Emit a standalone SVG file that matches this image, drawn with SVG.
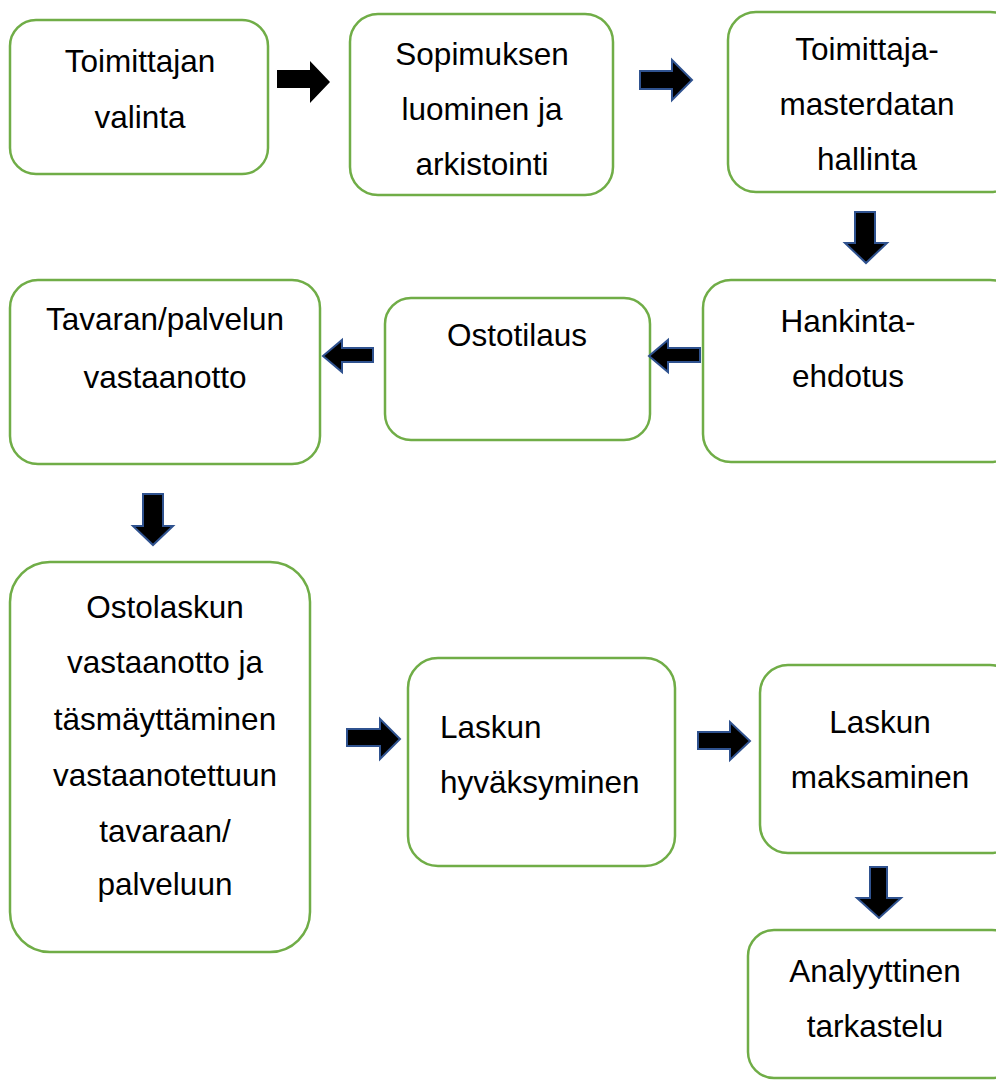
<svg xmlns="http://www.w3.org/2000/svg" width="996" height="1080" viewBox="0 0 996 1080">
<style>
.box{fill:#fff;stroke:#70AD47;stroke-width:2.5}
.t{font-family:"Liberation Sans",Arial,sans-serif;font-size:31.5px;fill:#000;text-anchor:middle}
.l{text-anchor:start}
.arr{fill:#000;stroke:#2F528F;stroke-width:2;stroke-linejoin:miter}
.arr0{fill:#000}
</style>
<rect width="996" height="1080" fill="#fff"/>
<g id="n1"><rect class="box" x="10" y="20" width="258" height="154" rx="26"/>
<text class="t" x="140" y="72">Toimittajan</text><text class="t" x="140" y="128">valinta</text></g>
<g id="n2"><rect class="box" x="350" y="14" width="263" height="181" rx="28"/>
<text class="t" x="482" y="65">Sopimuksen</text><text class="t" x="482" y="120">luominen ja</text><text class="t" x="482" y="175">arkistointi</text></g>
<g id="n3"><rect class="box" x="728" y="12" width="290" height="180" rx="28"/>
<text class="t" x="867" y="60">Toimittaja-</text><text class="t" x="867" y="115">masterdatan</text><text class="t" x="867" y="170">hallinta</text></g>
<g id="n4"><rect class="box" x="703" y="280" width="315" height="182" rx="28"/>
<text class="t" x="848" y="332">Hankinta-</text><text class="t" x="848" y="387">ehdotus</text></g>
<g id="n5"><rect class="box" x="385" y="298" width="265" height="142" rx="26"/>
<text class="t" x="517" y="346">Ostotilaus</text></g>
<g id="n6"><rect class="box" x="10" y="280" width="310" height="184" rx="28"/>
<text class="t" x="165" y="330">Tavaran/palvelun</text><text class="t" x="165" y="388">vastaanotto</text></g>
<g id="n7"><rect class="box" x="10" y="562" width="300" height="390" rx="40"/>
<text class="t" x="165" y="618">Ostolaskun</text><text class="t" x="165" y="673">vastaanotto ja</text><text class="t" x="165" y="730">täsmäyttäminen</text><text class="t" x="165" y="786">vastaanotettuun</text><text class="t" x="165" y="842">tavaraan/</text><text class="t" x="165" y="895">palveluun</text></g>
<g id="n8"><rect class="box" x="408" y="658" width="267" height="208" rx="30"/>
<text class="t l" x="440" y="738">Laskun</text><text class="t l" x="440" y="793">hyväksyminen</text></g>
<g id="n9"><rect class="box" x="760" y="665" width="258" height="188" rx="28"/>
<text class="t" x="880" y="733">Laskun</text><text class="t" x="880" y="788">maksaminen</text></g>
<g id="n10"><rect class="box" x="748" y="930" width="270" height="148" rx="26"/>
<text class="t" x="875" y="982">Analyyttinen</text><text class="t" x="875" y="1037">tarkastelu</text></g>
<g id="connectors">
<polygon class="arr0" points="277,70 310,70 310,61 330,82 310,103 310,88 277,88"/>
<polygon class="arr" points="640,71 672,71 672,60 692,80 672,100 672,89 640,89"/>
<polygon class="arr" points="855,212 875,212 875,243 887,243 866,263 845,243 855,243"/>
<polygon class="arr" points="700,348 668,348 668,340 649,356 668,372 668,362 700,362"/>
<polygon class="arr" points="373,348 342,348 342,340 323,356 342,372 342,362 373,362"/>
<polygon class="arr" points="143,494 163,494 163,526 173,526 153,545 133,526 143,526"/>
<polygon class="arr" points="347,729 380,729 380,719 400,739 380,759 380,746 347,746"/>
<polygon class="arr" points="698,732 730,732 730,722 750,741 730,760 730,749 698,749"/>
<polygon class="arr" points="870,867 887,867 887,898 901,898 879,918 857,898 870,898"/>
</g>
</svg>
